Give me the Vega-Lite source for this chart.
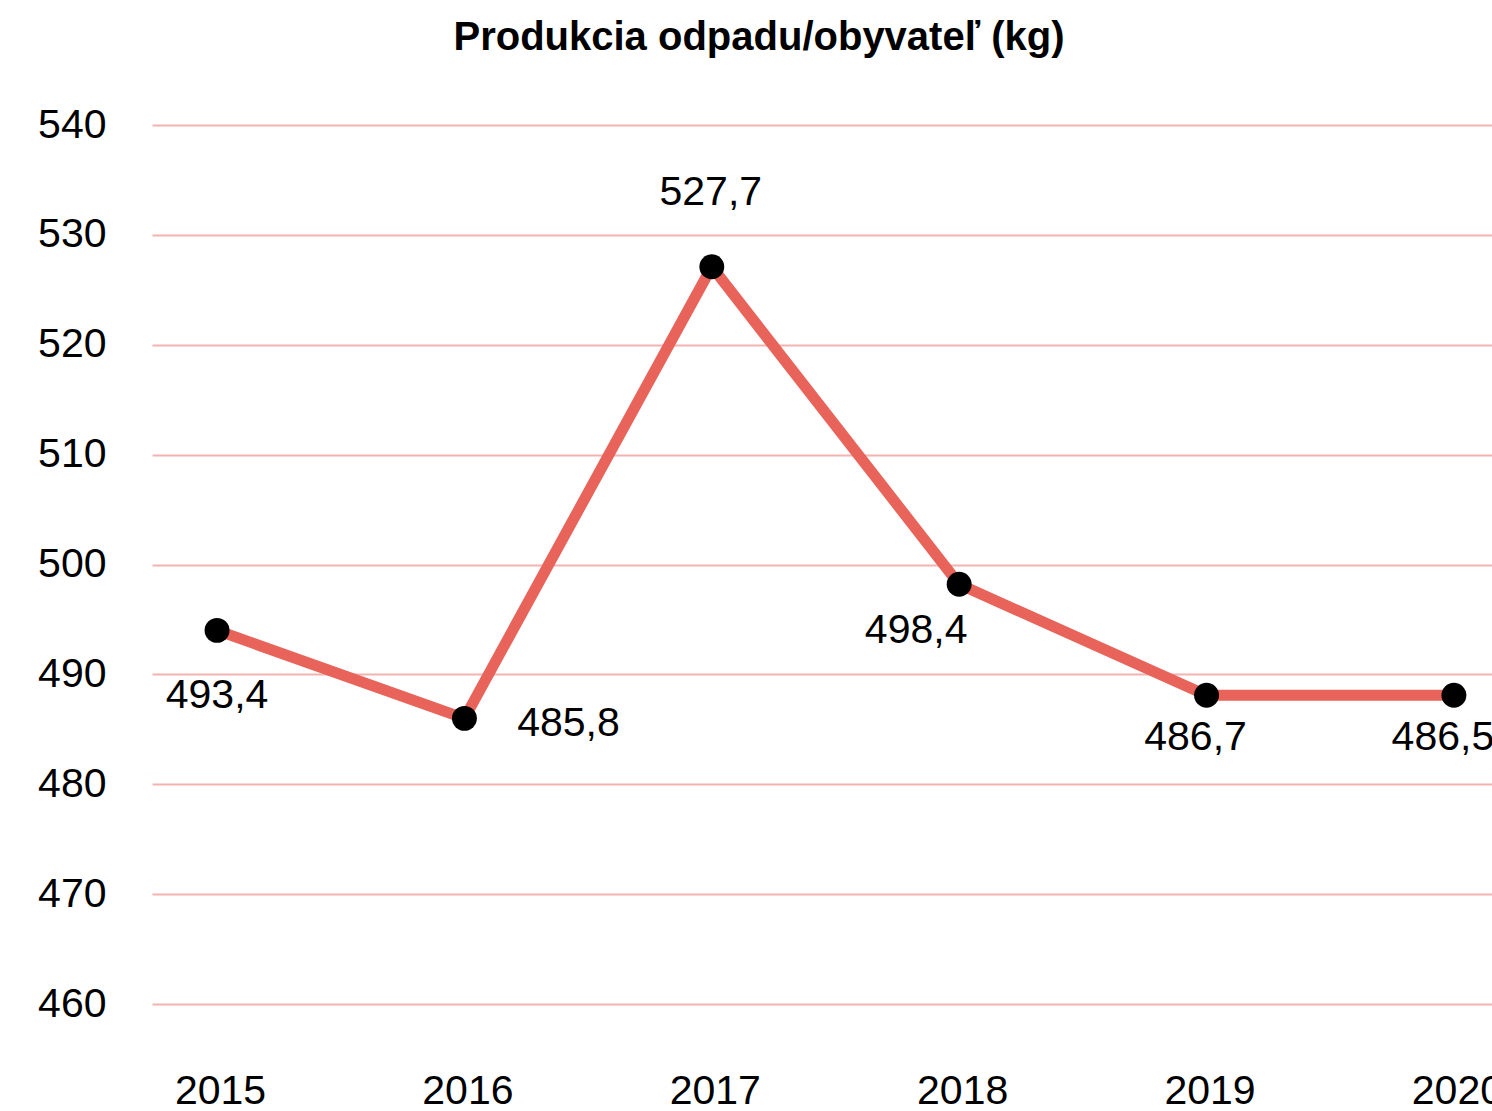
{
  "$schema": "https://vega.github.io/schema/vega-lite/v6.json",
  "autosize": {"type": "none"},
  "padding": {"left": 152, "top": 125, "right": 0, "bottom": 107},
  "width": 1340,
  "height": 879,
  "background": "white",
  "title": {
    "text": "Produkcia odpadu/obyvateľ (kg)",
    "font": "Liberation Sans",
    "fontSize": 40,
    "fontWeight": "bold",
    "color": "#000000",
    "anchor": "middle",
    "frame": "group",
    "dx": -63,
    "baseline": "alphabetic",
    "offset": 14
  },
  "config": {
    "view": {"stroke": null},
    "font": "Liberation Sans"
  },
  "data": {
    "values": [
      {"rok": 2015, "kg": 494.0, "popis": "493,4"},
      {"rok": 2016, "kg": 486.0, "popis": "485,8"},
      {"rok": 2017, "kg": 527.1, "popis": "527,7"},
      {"rok": 2018, "kg": 498.2, "popis": "498,4"},
      {"rok": 2019, "kg": 488.1, "popis": "486,7"},
      {"rok": 2020, "kg": 488.1, "popis": "486,5"}
    ]
  },
  "encoding": {
    "x": {
      "field": "rok",
      "type": "quantitative",
      "scale": {"domain": [2014.737, 2020.154], "nice": false, "zero": false},
      "axis": {
        "title": null,
        "values": [2015, 2016, 2017, 2018, 2019, 2020],
        "format": "d",
        "grid": false,
        "domain": false,
        "ticks": false,
        "labelFont": "Liberation Sans",
        "labelFontSize": 41,
        "labelColor": "#000000",
        "labelPadding": 67,
        "labelOffset": 3,
        "labelFlush": false,
        "labelOverlap": false
      }
    },
    "y": {
      "field": "kg",
      "type": "quantitative",
      "scale": {"domain": [460, 540], "nice": false, "zero": false},
      "axis": {
        "title": null,
        "values": [460, 470, 480, 490, 500, 510, 520, 530, 540],
        "grid": true,
        "gridColor": "#f3b4af",
        "gridWidth": 2,
        "gridOpacity": 1,
        "domain": false,
        "ticks": false,
        "labelFont": "Liberation Sans",
        "labelFontSize": 41,
        "labelColor": "#000000",
        "labelPadding": 46,
        "labelFlush": false,
        "labelOverlap": false
      }
    }
  },
  "layer": [
    {
      "mark": {"type": "line", "color": "#e8635a", "strokeWidth": 11, "strokeJoin": "round"}
    },
    {
      "mark": {"type": "point", "shape": "circle", "filled": true, "color": "#000000", "opacity": 1, "size": 620}
    },
    {
      "transform": [{"filter": "datum.rok == 2015"}],
      "mark": {"type": "text", "fontSize": 41, "color": "#000000", "baseline": "middle", "align": "center", "dx": 0, "dy": 66},
      "encoding": {"text": {"field": "popis"}}
    },
    {
      "transform": [{"filter": "datum.rok == 2016"}],
      "mark": {"type": "text", "fontSize": 41, "color": "#000000", "baseline": "middle", "align": "center", "dx": 104, "dy": 6},
      "encoding": {"text": {"field": "popis"}}
    },
    {
      "transform": [{"filter": "datum.rok == 2017"}],
      "mark": {"type": "text", "fontSize": 41, "color": "#000000", "baseline": "middle", "align": "center", "dx": -1, "dy": -74},
      "encoding": {"text": {"field": "popis"}}
    },
    {
      "transform": [{"filter": "datum.rok == 2018"}],
      "mark": {"type": "text", "fontSize": 41, "color": "#000000", "baseline": "middle", "align": "center", "dx": -43, "dy": 47},
      "encoding": {"text": {"field": "popis"}}
    },
    {
      "transform": [{"filter": "datum.rok >= 2019"}],
      "mark": {"type": "text", "fontSize": 41, "color": "#000000", "baseline": "middle", "align": "center", "dx": -11, "dy": 43},
      "encoding": {"text": {"field": "popis"}}
    }
  ]
}
